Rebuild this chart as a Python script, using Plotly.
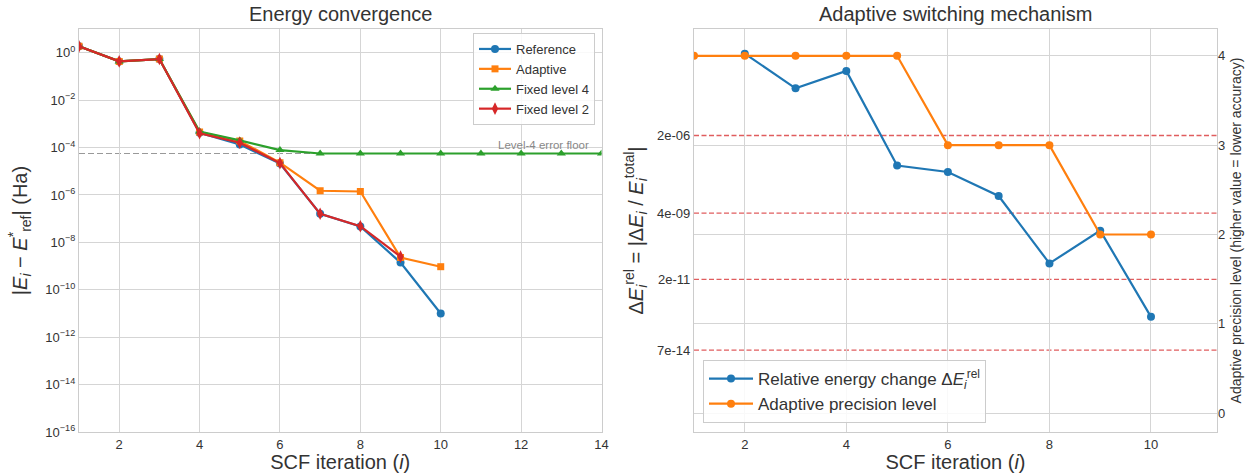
import plotly.graph_objects as go

# ---------------- data ----------------
iters = [1, 2, 3, 4, 5, 6, 7, 8, 9, 10]
ref_err = [1.85, 0.43, 0.54, 4.2e-4, 1.35e-4, 2.1e-5, 1.6e-7, 4.7e-8, 1.4e-9, 1.0e-11]
adaptive_err = [1.85, 0.43, 0.54, 4.5e-4, 1.9e-4, 2.3e-5, 1.5e-6, 1.4e-6, 2.3e-9, 9.4e-10]
iters_f4 = [1, 2, 3, 4, 5, 6, 7, 8, 9, 10, 11, 12, 13, 14]
fixed4_err = [1.85, 0.43, 0.54, 4.7e-4, 2.0e-4, 7.8e-5, 5.6e-5, 5.6e-5, 5.6e-5, 5.6e-5,
              5.6e-5, 5.6e-5, 5.6e-5, 5.6e-5]
iters_f2 = [1, 2, 3, 4, 5, 6, 7, 8, 9]
fixed2_err = [1.85, 0.43, 0.54, 4.0e-4, 1.6e-4, 2.2e-5, 1.6e-7, 4.8e-8, 2.5e-9]
floor_level4 = 5.6e-5

iters_rel = [2, 3, 4, 5, 6, 7, 8, 9, 10]
rel_change = [1.39e-3, 8.7e-5, 3.5e-4, 1.8e-7, 1.08e-7, 1.58e-8, 7.2e-11, 9.9e-10, 1.0e-12]
levels = [4, 4, 4, 4, 4, 3, 3, 3, 2, 2]
thresholds = [2e-6, 4e-9, 2e-11, 7e-14]
threshold_labels = ["2e-06", "4e-09", "2e-11", "7e-14"]

left_exps = [0, -2, -4, -6, -8, -10, -12, -14, -16]

# ---------------- style ----------------
C_BLUE, C_ORANGE, C_GREEN, C_RED = "#1f77b4", "#ff7f0e", "#2ca02c", "#d62728"
GRID = "#d5d5d5"
EDGE = "#cccccc"
TXT = "#333333"
FONT = "Liberation Sans"
W, H = 1251, 473

xl = [79 / W, 601.5 / W]
xr = [694 / W, 1217 / W]
yd = [1 - 432 / H, 1 - 29 / H]

fig = go.Figure()

lw = 2.2
ms = 8
fig.add_trace(go.Scatter(x=iters, y=ref_err, mode="lines+markers", name="Reference",
                         line=dict(color=C_BLUE, width=lw), marker=dict(symbol="circle", size=ms),
                         xaxis="x", yaxis="y", legend="legend"))
fig.add_trace(go.Scatter(x=iters, y=adaptive_err, mode="lines+markers", name="Adaptive",
                         line=dict(color=C_ORANGE, width=lw), marker=dict(symbol="square", size=ms - 1),
                         xaxis="x", yaxis="y", legend="legend"))
fig.add_trace(go.Scatter(x=iters_f4, y=fixed4_err, mode="lines+markers", name="Fixed level 4",
                         line=dict(color=C_GREEN, width=lw), marker=dict(symbol="triangle-up", size=ms),
                         xaxis="x", yaxis="y", legend="legend"))
fig.add_trace(go.Scatter(x=iters_f2, y=fixed2_err, mode="lines+markers", name="Fixed level 2",
                         line=dict(color=C_RED, width=lw), marker=dict(symbol="diamond-tall", size=ms + 1),
                         xaxis="x", yaxis="y", legend="legend"))

fig.add_trace(go.Scatter(x=iters_rel, y=rel_change, mode="lines+markers",
                         name="Relative energy change Δ<i>E</i><sub><i>i</i></sub><sup>rel</sup>",
                         line=dict(color=C_BLUE, width=lw), marker=dict(symbol="circle", size=ms),
                         xaxis="x2", yaxis="y2", legend="legend2"))
fig.add_trace(go.Scatter(x=iters, y=levels, mode="lines+markers",
                         name="Adaptive precision level",
                         line=dict(color=C_ORANGE, width=lw), marker=dict(symbol="circle", size=ms),
                         xaxis="x2", yaxis="y3", legend="legend2"))

shapes = []
shapes.append(dict(type="line", xref="x domain", yref="y", x0=0, x1=1,
                   y0=floor_level4, y1=floor_level4,
                   line=dict(color="#999999", width=1.2, dash="6px,3px"), layer="below"))
for t in thresholds:
    shapes.append(dict(type="line", xref="x2 domain", yref="y2", x0=0, x1=1, y0=t, y1=t,
                       line=dict(color="rgba(214,39,40,0.75)", width=1.3, dash="5px,2.5px"), layer="below"))

axis_common = dict(showline=True, linecolor=EDGE, linewidth=1.3, mirror=True,
                   gridcolor=GRID, gridwidth=1, ticks="", zeroline=False, automargin=False,
                   tickfont=dict(family=FONT, size=13, color=TXT))

TITLE_FONT = dict(size=20, family=FONT, color=TXT)

fig.update_layout(
    width=W, height=H,
    margin=dict(l=0, r=0, t=0, b=0),
    paper_bgcolor="white", plot_bgcolor="white",
    font=dict(family=FONT, color=TXT),
    shapes=shapes,
    xaxis=dict(domain=xl, anchor="y", range=[1, 14], dtick=2, tick0=0,
               title=dict(text="SCF iteration (<i>i</i>)", font=TITLE_FONT, standoff=4),
               **axis_common),
    yaxis=dict(domain=yd, anchor="x", type="log", range=[-16, 1],
               tickvals=[10.0 ** e for e in left_exps],
               ticktext=["10<sup>%s</sup>" % (str(e).replace("-", "−")) for e in left_exps],
               title=dict(text="|<i>E</i><sub><i>i</i></sub> − <i>E</i><sup>*</sup><sub>ref</sub>| (Ha)",
                          font=TITLE_FONT, standoff=12),
               **axis_common),
    xaxis2=dict(domain=xr, anchor="y2", range=[1, 11.3], dtick=2, tick0=0,
                title=dict(text="SCF iteration (<i>i</i>)", font=TITLE_FONT, standoff=4),
                **axis_common),
    yaxis2=dict(domain=yd, anchor="x2", type="log", range=[-16, -2],
                tickvals=thresholds, ticktext=threshold_labels, showgrid=False,
                title=dict(text="Δ<i>E</i><sub><i>i</i></sub><sup>rel</sup> = |Δ<i>E</i><sub><i>i</i></sub> / <i>E</i><sub><i>i</i></sub><sup>total</sup>|",
                           font=TITLE_FONT, standoff=8),
                **axis_common),
    yaxis3=dict(overlaying="y2", anchor="x2", side="right", range=[-0.21, 4.3], dtick=1, tick0=0,
                showline=False, gridcolor=GRID, gridwidth=1, ticks="", zeroline=False, automargin=False,
                tickfont=dict(family=FONT, size=13, color=TXT),
                title=dict(text="Adaptive precision level (higher value = lower accuracy)",
                           font=dict(size=14, family=FONT, color=TXT), standoff=6)),
    legend=dict(x=595 / W, y=1 - 33 / H, xanchor="right", yanchor="top",
                bgcolor="rgba(255,255,255,0.85)", bordercolor=EDGE, borderwidth=1,
                font=dict(family=FONT, size=13, color=TXT), tracegroupgap=0, itemwidth=32),
    legend2=dict(x=703 / W, y=1 - 423 / H, xanchor="left", yanchor="bottom",
                 bgcolor="rgba(255,255,255,0.85)", bordercolor=EDGE, borderwidth=1,
                 font=dict(family=FONT, size=17, color=TXT), tracegroupgap=0, itemwidth=44),
    annotations=[
        dict(text="Energy convergence", x=(xl[0] + xl[1]) / 2, y=1 - 14 / H, xref="paper", yref="paper",
             showarrow=False, font=TITLE_FONT, xanchor="center", yanchor="middle"),
        dict(text="Adaptive switching mechanism", x=(xr[0] + xr[1]) / 2, y=1 - 14 / H, xref="paper", yref="paper",
             showarrow=False, font=TITLE_FONT, xanchor="center", yanchor="middle"),
        dict(text="Level-4 error floor", x=0.979, y=-4.25, xref="x domain", yref="y",
             showarrow=False, font=dict(size=11.5, family=FONT, color="#888888"),
             xanchor="right", yanchor="bottom", yshift=0),
    ],
)

fig.write_html("out.html")
